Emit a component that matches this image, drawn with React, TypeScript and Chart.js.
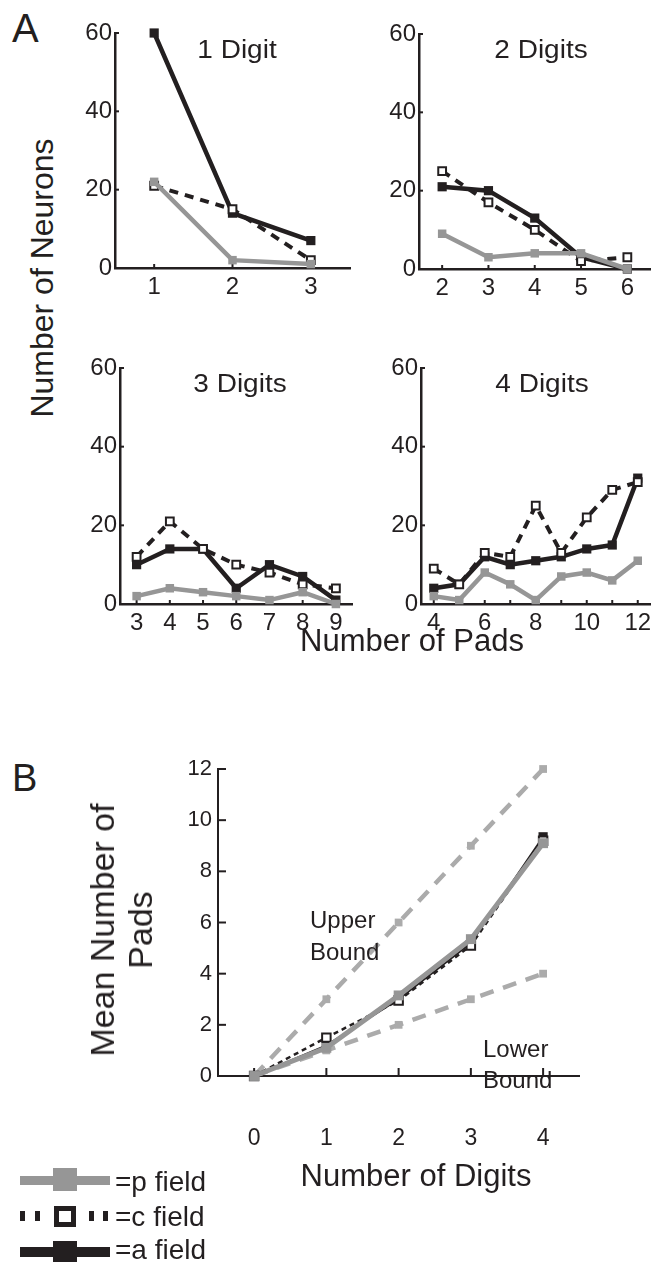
import React, { useEffect, useRef } from 'react';
import { Chart, registerables } from 'chart.js';

Chart.register(...registerables);

const FONT = '"Liberation Sans", Arial, Helvetica, sans-serif';
const INK = '#231f20';
const GRAY = '#969696';
const LIGHT = '#ababab';

// ---------- Panel A data (Number of Neurons vs Number of Pads) ----------
const pads1 = [1, 2, 3];
const aField1 = [60, 14, 7];
const cField1 = [21, 15, 2];
const pField1 = [22, 2, 1];

const pads2 = [2, 3, 4, 5, 6];
const aField2 = [21, 20, 13, 3, 0];
const cField2 = [25, 17, 10, 2, 3];
const pField2 = [9, 3, 4, 4, 0];

const pads3 = [3, 4, 5, 6, 7, 8, 9];
const aField3 = [10, 14, 14, 4, 10, 7, 1];
const cField3 = [12, 21, 14, 10, 8, 5, 4];
const pField3 = [2, 4, 3, 2, 1, 3, 0];

const pads4 = [4, 5, 6, 7, 8, 9, 10, 11, 12];
const aField4 = [4, 5, 12, 10, 11, 12, 14, 15, 32];
const cField4 = [9, 5, 13, 12, 25, 13, 22, 29, 31];
const pField4 = [2, 1, 8, 5, 1, 7, 8, 6, 11];

const neuronTicks = [0, 20, 40, 60];
const padTicks4 = [4, 5, 6, 7, 8, 9, 10, 11, 12];
const padLabels4 = ['4', '', '6', '', '8', '', '10', '', '12'];

// ---------- Panel B data (Mean Number of Pads vs Number of Digits) ----------
const digits = [0, 1, 2, 3, 4];
const upperBound = [0, 3, 6, 9, 12];
const lowerBound = [0, 1, 2, 3, 4];
const meanP = [0, 1.1, 3.15, 5.35, 9.1];
const meanC = [0, 1.5, 2.95, 5.1, 9.2];
const meanA = [0, 1.2, 3.0, 5.2, 9.35];
const meanTicks = [0, 2, 4, 6, 8, 10, 12];

type Rect = { left: number; top: number; width: number; height: number };
type Area = { left: number; top: number; right: number; bottom: number };
type Kind = 'a' | 'c' | 'p' | 'bound';

function styleFor(kind: Kind, big: boolean) {
  if (!big) {
    if (kind === 'a') return { borderColor: INK, borderWidth: 4.5, pointRadius: 6.5, pointBackgroundColor: INK, pointBorderColor: INK, pointBorderWidth: 0 };
    if (kind === 'c') return { borderColor: INK, borderWidth: 4, borderDash: [9, 7], pointRadius: 5.5, pointBackgroundColor: '#ffffff', pointBorderColor: INK, pointBorderWidth: 2 };
    return { borderColor: GRAY, borderWidth: 4.5, pointRadius: 6, pointBackgroundColor: GRAY, pointBorderColor: GRAY, pointBorderWidth: 0 };
  }
  if (kind === 'a') return { borderColor: INK, borderWidth: 2, pointRadius: 6.5, pointBackgroundColor: INK, pointBorderColor: INK, pointBorderWidth: 0 };
  if (kind === 'c') return { borderColor: INK, borderWidth: 2.5, borderDash: [5, 4], pointRadius: 6, pointBackgroundColor: '#ffffff', pointBorderColor: INK, pointBorderWidth: 2 };
  if (kind === 'p') return { borderColor: GRAY, borderWidth: 5, pointRadius: 7, pointBackgroundColor: GRAY, pointBorderColor: GRAY, pointBorderWidth: 0 };
  return { borderColor: LIGHT, borderWidth: 4.5, borderDash: [14, 10], pointRadius: 5.5, pointBackgroundColor: LIGHT, pointBorderColor: LIGHT, pointBorderWidth: 0 };
}

const inTicks = {
  id: 'inTicks',
  beforeDatasetsDraw(chart: any, _args: any, opts: any) {
    const { ctx, chartArea, scales } = chart;
    const len = opts.len || 5;
    ctx.save();
    ctx.strokeStyle = INK;
    ctx.lineWidth = opts.width || 2;
    for (const t of scales.x.ticks) {
      const px = scales.x.getPixelForValue(t.value);
      ctx.beginPath();
      ctx.moveTo(px, chartArea.bottom);
      ctx.lineTo(px, chartArea.bottom - len);
      ctx.stroke();
    }
    for (const t of scales.y.ticks) {
      const py = scales.y.getPixelForValue(t.value);
      ctx.beginPath();
      ctx.moveTo(chartArea.left, py);
      ctx.lineTo(chartArea.left + len, py);
      ctx.stroke();
    }
    ctx.restore();
  },
};

type PanelProps = {
  box: Rect;
  area: Area;
  xs: number[];
  series: { kind: Kind; values: number[] }[];
  xMin: number;
  xMax: number;
  xTicks: number[];
  xLabels?: string[];
  yMax: number;
  yTicks: number[];
  big?: boolean;
};

function Panel(props: PanelProps) {
  const ref = useRef<HTMLCanvasElement>(null);
  useEffect(() => {
    const { box, area, xs, series, xMin, xMax, xTicks, xLabels, yMax, yTicks, big } = props;
    const chart = new Chart(ref.current as HTMLCanvasElement, {
      type: 'line',
      data: {
        datasets: series.map((s) => ({
          data: xs.map((x, i) => ({ x, y: s.values[i] })),
          pointStyle: 'rect',
          tension: 0,
          clip: false,
          ...styleFor(s.kind, !!big),
        })) as any,
      },
      options: {
        animation: false,
        responsive: false,
        maintainAspectRatio: false,
        devicePixelRatio: 1,
        layout: {
          padding: {
            left: 0,
            top: area.top - box.top,
            right: box.left + box.width - area.right,
            bottom: 0,
          },
        },
        plugins: {
          legend: { display: false },
          tooltip: { enabled: false },
          inTicks: { len: big ? 8 : 4, width: 2 },
        } as any,
        scales: {
          x: {
            type: 'linear',
            min: xMin,
            max: xMax,
            afterBuildTicks: (ax: any) => {
              ax.ticks = xTicks.map((v) => ({ value: v }));
            },
            afterFit: (sc: any) => {
              sc.height = box.top + box.height - area.bottom;
            },
            grid: { display: false, drawTicks: false },
            border: { display: true, color: INK, width: big ? 2 : 2.5 },
            ticks: {
              color: INK,
              font: { family: FONT, size: big ? 23 : 24 },
              padding: big ? 49 : 5,
              maxRotation: 0,
              autoSkip: false,
              callback: (v: any) => {
                const i = xTicks.indexOf(Number(v));
                return xLabels ? xLabels[i] : String(v);
              },
            },
          },
          y: {
            type: 'linear',
            min: 0,
            max: yMax,
            afterBuildTicks: (ax: any) => {
              ax.ticks = yTicks.map((v) => ({ value: v }));
            },
            afterFit: (sc: any) => {
              sc.width = area.left - box.left;
            },
            grid: { display: false, drawTicks: false },
            border: { display: true, color: INK, width: big ? 2 : 2.5 },
            ticks: {
              color: INK,
              font: { family: FONT, size: big ? 22 : 24 },
              padding: big ? 6 : 3,
              autoSkip: false,
              callback: (v: any) => String(v),
            },
          },
        } as any,
      },
      plugins: [inTicks],
    } as any);
    return () => chart.destroy();
  }, []);
  const { box } = props;
  return (
    <canvas
      ref={ref}
      width={box.width}
      height={box.height}
      style={{ position: 'absolute', left: box.left, top: box.top, width: box.width, height: box.height }}
    />
  );
}

function Txt(p: { x: number; y: number; size: number; center?: boolean; children: React.ReactNode }) {
  return (
    <div
      style={{
        position: 'absolute',
        left: p.x,
        top: p.y - 0.8465 * p.size,
        fontSize: p.size,
        lineHeight: `${p.size}px`,
        whiteSpace: 'nowrap',
        color: INK,
        transform: p.center ? 'translateX(-50%)' : undefined,
      }}
    >
      {p.children}
    </div>
  );
}

function RotTxt(p: { cx: number; cy: number; size: number; lh: number; lines: string[] }) {
  return (
    <div
      style={{
        position: 'absolute',
        left: p.cx,
        top: p.cy,
        fontSize: p.size,
        lineHeight: `${p.lh}px`,
        whiteSpace: 'nowrap',
        textAlign: 'center',
        color: INK,
        transform: 'translate(-50%, -50%) rotate(-90deg)',
      }}
    >
      {p.lines.map((l, i) => (
        <div key={i}>{l}</div>
      ))}
    </div>
  );
}

function Block(p: { l: number; t: number; w: number; h: number; bg: string; border?: string }) {
  return (
    <div
      style={{
        position: 'absolute',
        left: p.l,
        top: p.t,
        width: p.w,
        height: p.h,
        background: p.bg,
        border: p.border,
        boxSizing: 'border-box',
      }}
    />
  );
}

function CenterTitle(p: { cx: number; y: number; text: string }) {
  return (
    <div
      style={{
        position: 'absolute',
        left: p.cx - 100,
        width: 200,
        textAlign: 'center',
        top: p.y - 0.8465 * 25,
        fontSize: 25,
        lineHeight: '25px',
        color: INK,
        whiteSpace: 'nowrap',
        transform: 'scaleX(1.12)',
      }}
    >
      {p.text}
    </div>
  );
}

export default function App() {
  return (
    <div
      style={{
        position: 'absolute',
        left: 0,
        top: 0,
        width: 658,
        height: 1264,
        background: '#ffffff',
        fontFamily: FONT,
        overflow: 'hidden',
      }}
    >
      <Panel
        box={{ left: 60, top: 0, width: 300, height: 310 }}
        area={{ left: 115, top: 33, right: 350, bottom: 268 }}
        xs={pads1}
        series={[{ kind: 'p', values: pField1 }, { kind: 'c', values: cField1 }, { kind: 'a', values: aField1 }]}
        xMin={0.5}
        xMax={3.5}
        xTicks={pads1}
        yMax={60}
        yTicks={neuronTicks}
      />
      <Panel
        box={{ left: 362, top: 0, width: 296, height: 310 }}
        area={{ left: 419, top: 34, right: 653, bottom: 269 }}
        xs={pads2}
        series={[{ kind: 'p', values: pField2 }, { kind: 'c', values: cField2 }, { kind: 'a', values: aField2 }]}
        xMin={1.5}
        xMax={6.5}
        xTicks={pads2}
        yMax={60}
        yTicks={neuronTicks}
      />
      <Panel
        box={{ left: 60, top: 330, width: 300, height: 310 }}
        area={{ left: 120, top: 368, right: 353, bottom: 604 }}
        xs={pads3}
        series={[{ kind: 'p', values: pField3 }, { kind: 'c', values: cField3 }, { kind: 'a', values: aField3 }]}
        xMin={2.5}
        xMax={9.5}
        xTicks={pads3}
        yMax={60}
        yTicks={neuronTicks}
      />
      <Panel
        box={{ left: 362, top: 330, width: 296, height: 310 }}
        area={{ left: 421, top: 368, right: 655, bottom: 604 }}
        xs={pads4}
        series={[{ kind: 'p', values: pField4 }, { kind: 'c', values: cField4 }, { kind: 'a', values: aField4 }]}
        xMin={3.5}
        xMax={12.5}
        xTicks={padTicks4}
        xLabels={padLabels4}
        yMax={60}
        yTicks={neuronTicks}
      />
      <Panel
        big
        box={{ left: 150, top: 740, width: 450, height: 420 }}
        area={{ left: 218, top: 769, right: 585, bottom: 1076 }}
        xs={digits}
        series={[
          { kind: 'p', values: meanP },
          { kind: 'c', values: meanC },
          { kind: 'a', values: meanA },
          { kind: 'bound', values: upperBound },
          { kind: 'bound', values: lowerBound },
        ]}
        xMin={-0.5}
        xMax={4.5}
        xTicks={digits}
        yMax={12}
        yTicks={meanTicks}
      />

      <Txt x={12} y={42} size={40}>A</Txt>
      <Txt x={12} y={791} size={38}>B</Txt>

      <CenterTitle cx={237} y={58} text="1 Digit" />
      <CenterTitle cx={541} y={58} text="2 Digits" />
      <CenterTitle cx={240} y={392} text="3 Digits" />
      <CenterTitle cx={542} y={392} text="4 Digits" />

      <RotTxt cx={42} cy={278} size={32} lh={36} lines={['Number of Neurons']} />
      <Txt x={412} y={651} size={31} center>Number of Pads</Txt>

      <RotTxt cx={121} cy={930} size={34} lh={38} lines={['Mean Number of', 'Pads']} />
      <Txt x={416} y={1186} size={31} center>Number of Digits</Txt>

      <Txt x={310} y={928} size={24}>Upper</Txt>
      <Txt x={310} y={960} size={24}>Bound</Txt>
      <Txt x={483} y={1057} size={24}>Lower</Txt>
      <Txt x={483} y={1088} size={24}>Bound</Txt>

      {/* legend */}
      <Block l={20} t={1176} w={90} h={9} bg={GRAY} />
      <Block l={53} t={1168} w={24} h={23} bg={GRAY} />
      <Txt x={115} y={1192} size={28}>=p field</Txt>

      <Block l={20} t={1211} w={5} h={10} bg={INK} />
      <Block l={35} t={1211} w={5} h={10} bg={INK} />
      <Block l={54} t={1206} w={22} h={21} bg="#ffffff" border={`5px solid ${INK}`} />
      <Block l={89} t={1211} w={5} h={10} bg={INK} />
      <Block l={103} t={1211} w={5} h={10} bg={INK} />
      <Txt x={115} y={1227} size={28}>=c field</Txt>

      <Block l={20} t={1247} w={90} h={10} bg={INK} />
      <Block l={53} t={1241} w={24} h={21} bg={INK} />
      <Txt x={115} y={1260} size={28}>=a field</Txt>
    </div>
  );
}
